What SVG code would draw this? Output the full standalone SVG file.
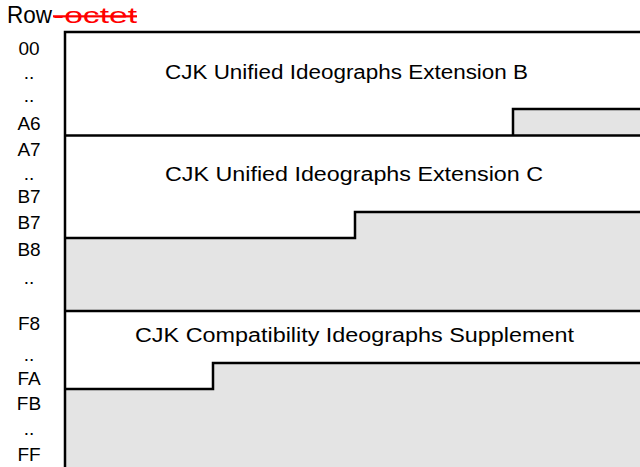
<svg xmlns="http://www.w3.org/2000/svg" width="640" height="467" viewBox="0 0 640 467">
  <style>
    .lbl { font-family: "Liberation Sans", Arial, sans-serif; font-size: 19px; fill: #000; text-anchor: middle; }
    .name { font-family: "Liberation Sans", Arial, sans-serif; font-size: 20px; fill: #000; }
    .free { fill: #e4e4e4; stroke: none; }
    .edge { fill: none; stroke: #000; stroke-width: 2.5; }
  </style>

  <rect width="640" height="467" fill="#fff"/>

  <!-- column heading -->
  <g id="heading">
    <text x="7" y="23" font-family="Liberation Sans, Arial, sans-serif" font-size="23" fill="#000" textLength="45" lengthAdjust="spacingAndGlyphs">Row</text>
    <text x="53" y="23" font-family="Liberation Sans, Arial, sans-serif" font-size="22" fill="#f00" text-decoration="line-through" textLength="84" lengthAdjust="spacingAndGlyphs">-octet</text>
  </g>

  <!-- row numbers down the left -->
  <g id="row-labels">
    <text class="lbl" x="29" y="55">00</text>
    <text class="lbl" x="29" y="79">..</text>
    <text class="lbl" x="29" y="102">..</text>
    <text class="lbl" x="29" y="130">A6</text>
    <text class="lbl" x="29" y="156">A7</text>
    <text class="lbl" x="29" y="180">..</text>
    <text class="lbl" x="29" y="203">B7</text>
    <text class="lbl" x="29" y="229">B7</text>
    <text class="lbl" x="29" y="256">B8</text>
    <text class="lbl" x="29" y="284">..</text>
    <text class="lbl" x="29" y="330">F8</text>
    <text class="lbl" x="29" y="361">..</text>
    <text class="lbl" x="29" y="385">FA</text>
    <text class="lbl" x="29" y="410">FB</text>
    <text class="lbl" x="29" y="435">..</text>
    <text class="lbl" x="29" y="461">FF</text>
  </g>

  <!-- unassigned space -->
  <g id="unassigned">
    <polygon class="free" points="513,109 640,109 640,135 513,135"/>
    <polygon class="free" points="355,212 640,212 640,311 65,311 65,238 355,238"/>
    <polygon class="free" points="213,363 640,363 640,467 65,467 65,389 213,389"/>
  </g>

  <!-- blocks -->
  <g id="ext-b">
    <text class="name" x="165" y="79" textLength="363" lengthAdjust="spacingAndGlyphs">CJK Unified Ideographs Extension B</text>
  </g>
  <g id="ext-c">
    <text class="name" x="165" y="181" textLength="378" lengthAdjust="spacingAndGlyphs">CJK Unified Ideographs Extension C</text>
  </g>
  <g id="compat-supplement">
    <text class="name" x="135" y="342" textLength="439" lengthAdjust="spacingAndGlyphs">CJK Compatibility Ideographs Supplement</text>
  </g>

  <!-- boundaries -->
  <g id="boundaries">
    <path class="edge" d="M65,467 V32 H640"/>
    <path class="edge" d="M65,135.5 H640"/>
    <path class="edge" d="M513,135.5 V109 H640"/>
    <path class="edge" d="M65,238 H355 V212 H640"/>
    <path class="edge" d="M65,311 H640"/>
    <path class="edge" d="M65,389 H213 V363 H640"/>
  </g>
</svg>
